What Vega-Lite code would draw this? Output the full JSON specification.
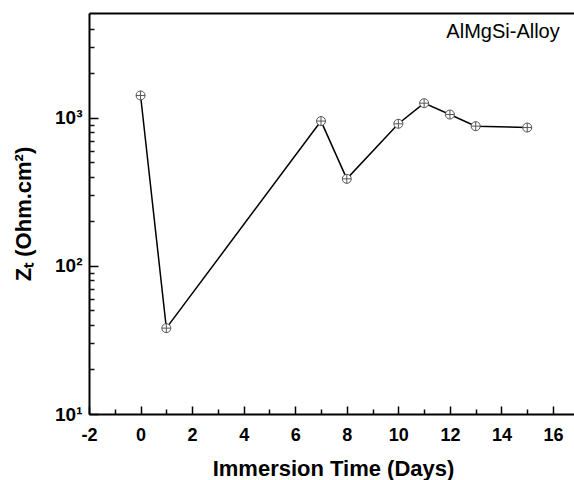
{
  "$schema": "https://vega.github.io/schema/vega-lite/v6.json",
  "width": 488,
  "height": 401,
  "autosize": {"type": "none"},
  "padding": {"left": 89, "top": 13, "right": 0, "bottom": 66},
  "background": "white",
  "config": {
    "view": {"stroke": null},
    "font": "Liberation Sans",
    "axis": {"grid": false, "domainColor": "black", "domainWidth": 2, "tickColor": "black", "tickWidth": 1.5, "labelColor": "black", "titleColor": "black"}
  },
  "datasets": {
    "zt": [
      {"day": 0, "z": 1415},
      {"day": 1, "z": 38},
      {"day": 7, "z": 950},
      {"day": 8, "z": 387},
      {"day": 10, "z": 911},
      {"day": 11, "z": 1255},
      {"day": 12, "z": 1052},
      {"day": 13, "z": 878},
      {"day": 15, "z": 859}
    ],
    "note": [{"day": 16.26, "z": 3800, "label": "AlMgSi-Alloy"}]
  },
  "resolve": {"axis": {"x": "independent", "y": "independent"}},
  "layer": [
    {
      "data": {"name": "zt"},
      "mark": {"type": "line", "color": "black", "strokeWidth": 1.5},
      "encoding": {
        "x": {"field": "day", "type": "quantitative", "scale": {"domain": [-2, 16.93], "nice": false, "zero": false},
          "axis": {"orient": "bottom", "values": [-2, 0, 2, 4, 6, 8, 10, 12, 14, 16], "tickSize": -8, "labelPadding": 20, "labelFontSize": 18, "labelFontWeight": "bold", "labelExpr": "toString(datum.value)", "title": "Immersion Time (Days)", "titleFontSize": 22, "titleFontWeight": "bold", "titlePadding": 14, "labelFlush": false}},
        "y": {"field": "z", "type": "quantitative", "scale": {"type": "log", "domain": [10, 5100], "nice": false},
          "axis": {"orient": "left", "values": [10, 100, 1000], "tickSize": -9, "labelPadding": 16, "labelFontSize": 19, "labelFontWeight": "bold", "labelExpr": "datum.value == 1000 ? '10³' : datum.value == 100 ? '10²' : '10¹'", "title": "Zₜ (Ohm.cm²)", "titleFontSize": 22, "titleFontWeight": "bold", "titlePadding": 19, "labelFlush": false}}
      }
    },
    {
      "data": {"name": "zt"},
      "mark": {"type": "point", "shape": "M-1,0A1,1 0 1,0 1,0A1,1 0 1,0 -1,0ZM-1,0L1,0M0,-1L0,1", "size": 81, "filled": false, "fill": "white", "fillOpacity": 1, "stroke": "#555555", "strokeWidth": 1, "opacity": 1},
      "encoding": {
        "x": {"field": "day", "type": "quantitative", "axis": {"orient": "bottom", "values": [-1, 1, 3, 5, 7, 9, 11, 13, 15], "tickSize": -5, "labels": false, "domain": false, "title": null}},
        "y": {"field": "z", "type": "quantitative", "axis": {"orient": "left", "values": [20, 30, 40, 50, 60, 70, 80, 90, 200, 300, 400, 500, 600, 700, 800, 900, 2000, 3000, 4000], "tickSize": -5, "tickColor": "#111111", "labels": true, "labelColor": "rgba(0,0,0,0)", "domain": false, "title": null}}
      }
    },
    {
      "data": {"name": "note"},
      "mark": {"type": "text", "align": "right", "baseline": "middle", "fontSize": 20, "font": "Liberation Sans", "color": "black"},
      "encoding": {
        "x": {"field": "day", "type": "quantitative", "axis": {"orient": "top", "values": [0], "ticks": false, "labels": true, "labelColor": "rgba(0,0,0,0)", "domain": true, "title": null}},
        "y": {"field": "z", "type": "quantitative", "axis": null},
        "text": {"field": "label"}
      }
    }
  ]
}
